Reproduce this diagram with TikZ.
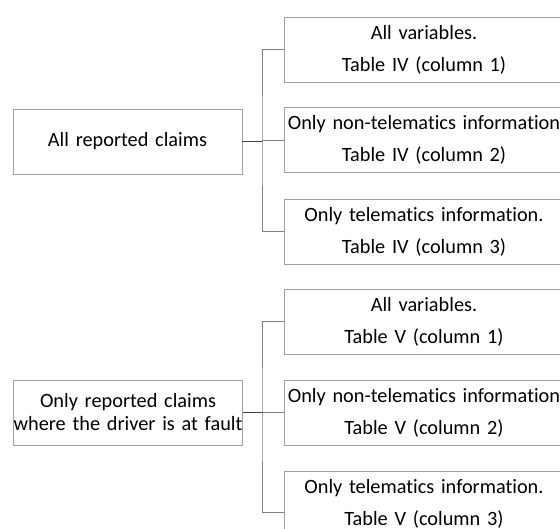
\documentclass[tikz,border=0pt]{standalone}
\usepackage{fontspec}
\setmainfont{Carlito}[Ligatures={NoCommon}]
\definecolor{boxgray}{HTML}{A0A0A0}
\definecolor{linegray}{HTML}{808080}
\definecolor{stemgray}{HTML}{404040}
\begin{document}
\begin{tikzpicture}[x=1pt,y=-1pt,
  box/.style={draw=boxgray, line width=0.9pt, minimum width=280pt, text width=280pt, minimum height=65pt, inner sep=0pt, align=center, font=\fontsize{20.3}{32}\selectfont},
  lbox/.style={draw=boxgray, line width=0.9pt, minimum width=229pt, text width=229pt, minimum height=65pt, inner sep=0pt, align=center, font=\fontsize{20.3}{23}\selectfont},
  link/.style={draw=linegray, line width=0.9pt},
  stem/.style={draw=stemgray, line width=1.1pt}]
\useasboundingbox (0,0) rectangle (560,529);
\clip (0,0) rectangle (560,529);
% top group
\node[lbox] (L1) at (127.5,141.5) {All reported claims};
\node[box] (A1) at (424,49.5) {All variables.\\Table IV (column 1)};
\node[box] (A2) at (424,140) {Only non-telematics information\\Table IV (column 2)};
\node[box] (A3) at (424,231.5) {Only telematics information.\\Table IV (column 3)};
\coordinate (J1) at (262,141.5);
\draw[stem] (L1.east) -- (J1);
\draw[link] (A1.west) -| (J1) |- (A3.west);
\draw[link] (J1 |- A2.west) -- (A2.west);
% bottom group
\node[lbox] (L2) at (128,412.5) {Only reported claims\\where the driver is at fault};
\node[box] (B1) at (424,321.5) {All variables.\\Table V (column 1)};
\node[box] (B2) at (424,412.5) {Only non-telematics information\\Table V (column 2)};
\node[box] (B3) at (424,503.5) {Only telematics information.\\Table V (column 3)};
\coordinate (J2) at (262,412.5);
\draw[stem] (L2.east) -- (J2);
\draw[link] (B1.west) -| (J2) |- ([yshift=-8.5pt]B3.west);
\draw[link] (J2) -- (B2.west);
\end{tikzpicture}
\end{document}
